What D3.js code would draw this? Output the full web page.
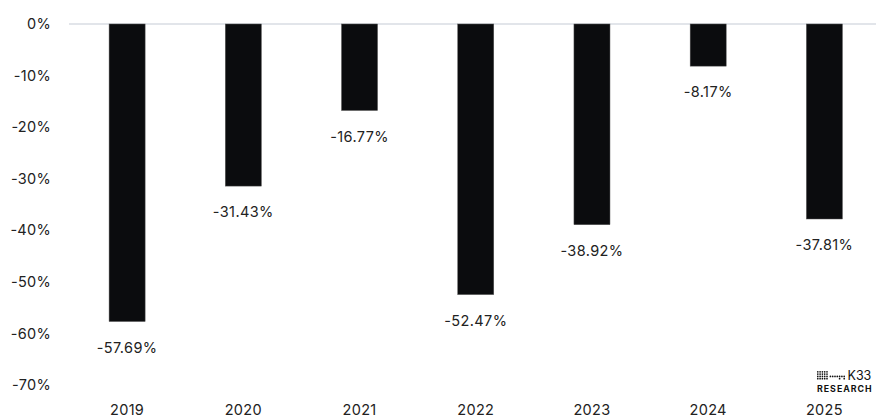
<!DOCTYPE html>
<html>
<head>
<meta charset="utf-8">
<script src="https://cdn.jsdelivr.net/npm/d3@7"></script>
<style>
  html, body { margin: 0; padding: 0; background: #fff; }
  svg { display: block; font-family: "Inter", "Noto Sans", sans-serif; }
</style>
</head>
<body>
<svg id="chart" width="876" height="419"></svg>
<script>
// Yearly values (percent)
const years = ["2019", "2020", "2021", "2022", "2023", "2024", "2025"];
const values = [-57.69, -31.43, -16.77, -52.47, -38.92, -8.17, -37.81];
const yTicks = [0, -10, -20, -30, -40, -50, -60, -70];

const svg = d3.select("#chart");
const W = 876, H = 419;
const FONT = 14.5;

const x = d3.scaleBand()
  .domain(years)
  .range([69, 882.5])
  .paddingInner(0.69)
  .paddingOuter(0.345);

const y = d3.scaleLinear()
  .domain([0, -70])
  .range([24, 385]);

// zero gridline
svg.append("line")
  .attr("x1", 69).attr("x2", W)
  .attr("y1", y(0)).attr("y2", y(0))
  .attr("stroke", "#e2e5ea")
  .attr("stroke-width", 2);

// y axis labels
const yAxis = d3.axisLeft(y)
  .tickValues(yTicks)
  .tickFormat(d => d + "%")
  .tickSize(0)
  .tickPadding(0);
const yg = svg.append("g").attr("transform", "translate(51,0)").call(yAxis);
yg.select(".domain").remove();
yg.selectAll("text").attr("font-size", FONT).attr("fill", "#222")
  .attr("letter-spacing", 0.3).attr("font-family", "Inter, sans-serif");

// x axis labels
const xAxis = d3.axisBottom(x).tickSize(0).tickPadding(0);
const xg = svg.append("g").attr("transform", "translate(0,405)").call(xAxis);
xg.select(".domain").remove();
xg.selectAll("text").attr("font-size", FONT).attr("fill", "#222")
  .attr("letter-spacing", 0.3).attr("font-family", "Inter, sans-serif");

// bars
const rows = years.map((yr, i) => ({ yr, v: values[i] }));
svg.append("g").selectAll("rect")
  .data(rows)
  .join("rect")
  .attr("x", d => x(d.yr))
  .attr("y", y(0))
  .attr("width", x.bandwidth())
  .attr("height", d => y(d.v) - y(0))
  .attr("fill", "#0b0c0e")
  .attr("stroke", "#555")
  .attr("stroke-width", 0.5);

// value labels under bars
svg.append("g").selectAll("text")
  .data(rows)
  .join("text")
  .attr("x", d => x(d.yr) + x.bandwidth() / 2)
  .attr("y", d => y(d.v) + 26)
  .attr("dy", "0.35em")
  .attr("text-anchor", "middle")
  .attr("font-size", FONT)
  .attr("letter-spacing", 0.4)
  .attr("fill", "#222")
  .text(d => d.v.toFixed(2) + "%");

// brand mark
const logo = svg.append("g").attr("transform", "translate(817,371)");
const dots = [];
for (let c = 0; c < 5; c++) for (let r = 0; r < 4; r++) dots.push([c * 2.3, r * 2.3]);
[[12.6, 4.6], [14.9, 4.6], [17.2, 4.6], [19.5, 4.6], [21.8, 4.6], [24.1, 4.6],
 [21.8, 6.9], [26.4, 4.6], [26.4, 6.9]]
  .forEach(p => dots.push(p));
logo.selectAll("circle").data(dots).join("circle")
  .attr("cx", d => d[0] + 0.8).attr("cy", d => d[1] + 0.8)
  .attr("r", 0.85).attr("fill", "#111");
logo.append("text").attr("x", 30.5).attr("y", 8.6)
  .attr("font-size", 12.5).attr("fill", "#111").text("K33");
logo.append("text").attr("x", 0).attr("y", 20.5)
  .attr("font-size", 8.8).attr("font-weight", 700).attr("letter-spacing", 1.0)
  .attr("fill", "#111").text("RESEARCH");
</script>
</body>
</html>
